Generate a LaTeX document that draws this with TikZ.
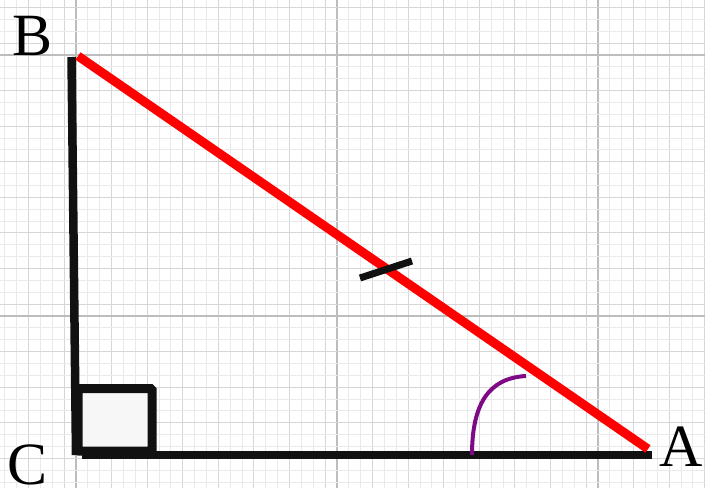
\documentclass[tikz,border=0pt]{standalone}
\usepackage{fontspec}
\setmainfont{Liberation Serif}
\definecolor{gmin}{HTML}{EAEAEA}
\definecolor{gmed}{HTML}{D6D6D6}
\definecolor{gmaj}{HTML}{BDBDBD}
\definecolor{ink}{HTML}{111111}
\definecolor{arcpurple}{HTML}{7F0A85}
\tikzset{
  gridmin/.style={draw=gmin,line width=0.9pt},
  gridmed/.style={draw=gmed,line width=1pt},
  gridmaj/.style={draw=gmaj,line width=1.2pt},
  leg/.style={draw=ink,line width=8.5pt},
  hyp/.style={draw=red,line width=9pt},
  tickmark/.style={draw=ink,line width=7pt},
  anglearc/.style={draw=arcpurple,line width=4pt},
  rightbox/.style={draw=ink,fill=gray!6,line width=9pt,rounded corners=1.5pt},
  vlabel/.style={font=\fontsize{60}{60}\selectfont,text=black,inner sep=0pt}
}
\begin{document}
\begin{tikzpicture}[x=1pt,y=-1pt]
\useasboundingbox (0,0) rectangle (705,488);
\fill[white] (0,0) rectangle (705,488);
% grid
\foreach \i in {-7,...,53}{
  \pgfmathtruncatemacro\r{mod(\i+110,22)}
  \pgfmathtruncatemacro\m{mod(\r,3)}
  \ifnum\r=0 \def\gs{gridmaj}\else\ifnum\m=0 \def\gs{gridmed}\else\def\gs{gridmin}\fi\fi
  \draw[\gs] ({76+\i*11.864},0) -- ({76+\i*11.864},488);
}
\foreach \j in {-5,...,37}{
  \pgfmathtruncatemacro\r{mod(\j+110,22)}
  \pgfmathtruncatemacro\m{mod(\r,3)}
  \ifnum\r=0 \def\gs{gridmaj}\else\ifnum\m=0 \def\gs{gridmed}\else\def\gs{gridmin}\fi\fi
  \draw[\gs] (0,{55+\j*11.864}) -- (705,{55+\j*11.864});
}
% vertices
\coordinate (Btop) at (71.5,57);
\coordinate (Cv) at (76,455);
\coordinate (Cb) at (82,455);
\coordinate (Ab) at (652,455);
\coordinate (B) at (78,56);
\coordinate (A) at (648,449);
\coordinate (T1) at (360,278);
\coordinate (T2) at (412,261);
\coordinate (Arc1) at (472,455);
\coordinate (Arc2) at (526,376);
% right angle box
\draw[rightbox] (78,388.5) rectangle (152,451);
% legs
\draw[leg] (Btop) -- (Cv);
\draw[leg] (Cb) -- (Ab);
% hypotenuse
\draw[hyp] (B) -- (A);
% tick mark
\draw[tickmark] (T1) -- (T2);
% angle arc
\draw[anglearc] (Arc1) .. controls (472,405) and (488,378) .. (Arc2);
% labels
\node[vlabel] (lB) at (33,36) {B};
\node[vlabel] (lC) at (28,465) {C};
\node[vlabel] (lA) at (681,447) {A};
\end{tikzpicture}
\end{document}
